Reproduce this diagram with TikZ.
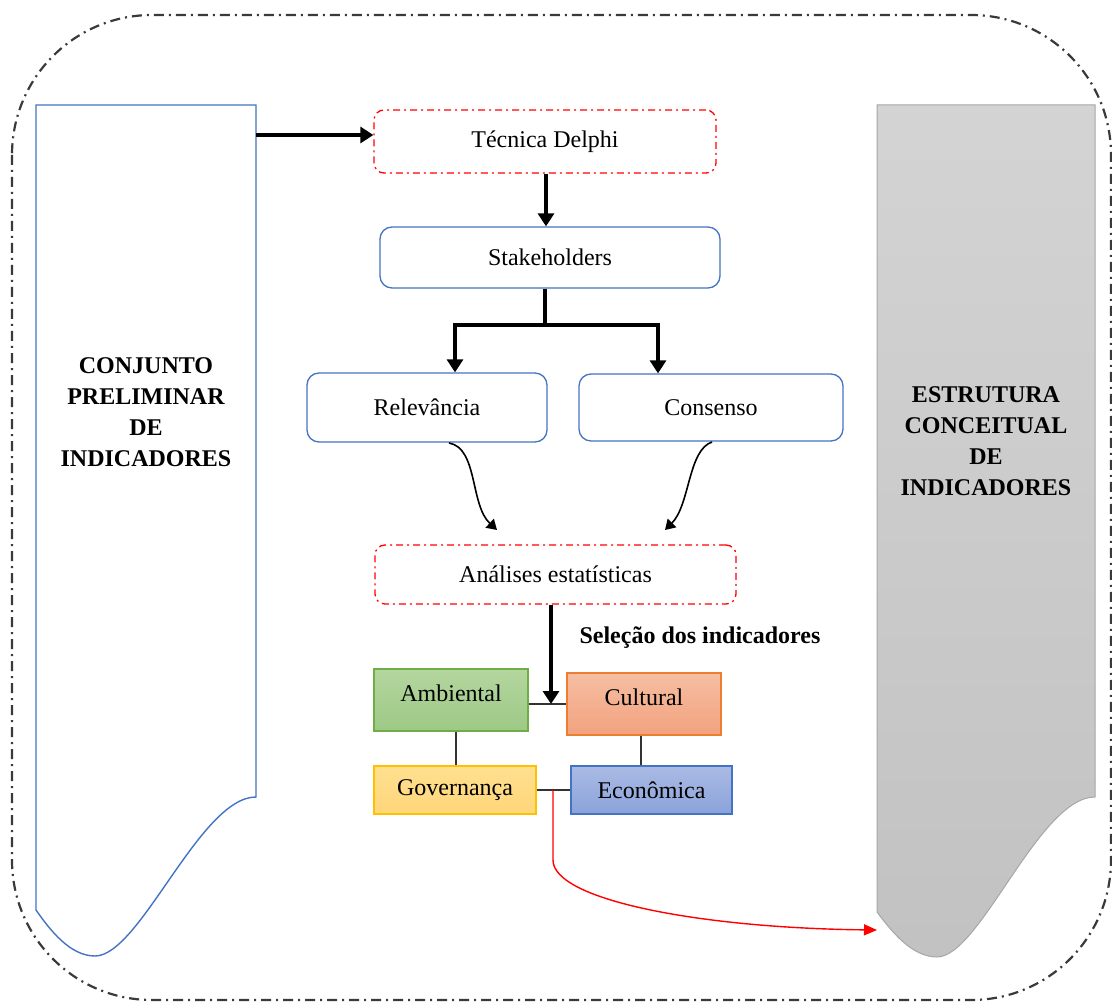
\documentclass[tikz,border=0pt]{standalone}
\usepackage{fontspec}
\setmainfont{Liberation Serif}
\usetikzlibrary{arrows.meta,calc}

\definecolor{boxblue}{HTML}{4472C4}
\definecolor{frame}{HTML}{3A3A3A}
\definecolor{grayedge}{HTML}{A6A6A6}
\definecolor{ambEdge}{HTML}{70AD47}
\definecolor{ambTop}{HTML}{B4D69F}
\definecolor{ambBot}{HTML}{9DC985}
\definecolor{culEdge}{HTML}{ED7D31}
\definecolor{culTop}{HTML}{F6BEA2}
\definecolor{culBot}{HTML}{F2A27E}
\definecolor{govEdge}{HTML}{FFC000}
\definecolor{govTop}{HTML}{FFE08F}
\definecolor{govBot}{HTML}{FFD67A}
\definecolor{ecoEdge}{HTML}{4472C4}
\definecolor{ecoTop}{HTML}{AABAE4}
\definecolor{ecoBot}{HTML}{8BA3DA}

\tikzset{
  txt/.style={font=\fontsize{24}{31}\selectfont},
  dashred/.style={draw=red, line width=1.3pt, rounded corners=10pt,
    dash pattern=on 7pt off 4pt on 2pt off 4pt, txt, anchor=center, inner sep=0pt},
  bluebox/.style={draw=boxblue, line width=1.3pt, rounded corners=12pt, txt,
    anchor=center, inner sep=0pt},
  colbox/.style={line width=1.3pt, txt, anchor=center, inner sep=0pt},
  raised/.style={text depth=14pt},
  thick arrow/.style={line width=4.6pt, -{Triangle[width=16pt,length=13pt]}},
  thick line/.style={line width=4.6pt},
  thin arrow/.style={line width=1.6pt, -{Triangle[width=12pt,length=10pt]}},
  link/.style={line width=1.5pt, draw=black!80},
  doctext/.style={txt, font=\fontsize{24}{31}\selectfont\bfseries, align=center},
}

\begin{document}
\begin{tikzpicture}[x=1pt,y=-1pt]
\useasboundingbox (0,0) rectangle (1112,1003);

% outer frame
\draw[frame, line width=2.2pt, dash pattern=on 10pt off 5pt on 2pt off 5pt,
      rounded corners=140pt] (12,15) rectangle (1111,1000);

% left document shape
\draw[boxblue, line width=1.4pt]
  (36,105) -- (256,105) -- (256,797)
  .. controls (200,797) and (140,956) .. (95,956)
  .. controls (70,956) and (50,930) .. (36,910) -- cycle;
\node[doctext] (conj) at (146,412)
  {CONJUNTO\\PRELIMINAR\\DE\\INDICADORES};

% right document shape
\draw[grayedge, line width=1pt, top color=black!17, bottom color=black!24]
  (877,105) -- (1095,105) -- (1095,797)
  .. controls (1039,797) and (980,957) .. (937,957)
  .. controls (912,957) and (892,932) .. (877,912) -- cycle;
\node[doctext] (estr) at (986,441)
  {ESTRUTURA\\CONCEITUAL\\DE\\INDICADORES};

% process boxes
\node[dashred, minimum width=342pt, minimum height=63pt] (delphi) at (545,141.5) {Técnica Delphi};
\node[bluebox, minimum width=340pt, minimum height=61pt] (stake) at (550,257.5) {Stakeholders};
\node[bluebox, minimum width=240pt, minimum height=69pt] (relev) at (427,407.5) {Relevância};
\node[bluebox, minimum width=264pt, minimum height=67pt] (cons) at (711,407.5) {Consenso};
\node[dashred, minimum width=361pt, minimum height=59pt] (anal) at (555.5,574.5) {Análises estatísticas};

% dimension boxes
\node[colbox, draw=ambEdge, raised, minimum width=154pt, minimum height=62pt,
      top color=ambTop, bottom color=ambBot] (amb) at (451,700) {Ambiental};
\node[colbox, draw=culEdge, raised, minimum width=154pt, minimum height=62pt,
      top color=culTop, bottom color=culBot] (cult) at (644,704) {Cultural};
\node[colbox, draw=govEdge, minimum width=162pt, minimum height=48pt,
      top color=govTop, bottom color=govBot] (gov) at (455,790) {Governança};
\node[colbox, draw=ecoEdge, minimum width=161pt, minimum height=48pt,
      top color=ecoTop, bottom color=ecoBot] (econ) at (651.5,790) {Econômica};

\node[txt, font=\fontsize{24}{31}\selectfont\bfseries, anchor=west] (sel) at (576,638) {Seleção dos indicadores};

% connectors
\coordinate (docR) at (256,135);
\draw[thick arrow] (docR) -- (delphi.west |- docR);
\draw[thick arrow] ($(delphi.south)+(1,0)$) -- ($(stake.north)+(-4,0)$);

\coordinate (split) at (545,325);
\coordinate (splitL) at (455,325);
\coordinate (splitR) at (658,325);
\draw[thick line] ($(stake.south)+(-5,0)$) -- (split);
\draw[thick line, line cap=rect] (splitL) -- (splitR);
\draw[thick arrow] (splitL) -- (splitL |- relev.north);
\draw[thick arrow] (splitR) -- (splitR |- cons.north);

\coordinate (relevOut) at (449,443);
\coordinate (consOut) at (712,442);
\coordinate (analInL) at (497,530);
\coordinate (analInR) at (665,530);
\draw[thin arrow] (relevOut) .. controls (478,448) and (470,505) .. (analInL);
\draw[thin arrow] (consOut) .. controls (688,450) and (690,505) .. (analInR);

\coordinate (hub) at (551,704);
\draw[link] (amb.east |- hub) -- (cult.west |- hub);
\draw[thick arrow] (anal.south -| hub) -- (hub);
\draw[link] (amb.south -| 456,0) -- (gov.north -| 456,0);
\draw[link] (cult.south -| 641,0) -- (econ.north -| 641,0);
\draw[link] (gov.east) -- (econ.west);

\coordinate (redstart) at (553,790);
\coordinate (redend) at (877,930);
\draw[red, line width=1.4pt, -{Triangle[width=11pt,length=13pt]}]
  (redstart) -- (553,860) .. controls (553,900) and (700,928) .. (redend);
\end{tikzpicture}
\end{document}
